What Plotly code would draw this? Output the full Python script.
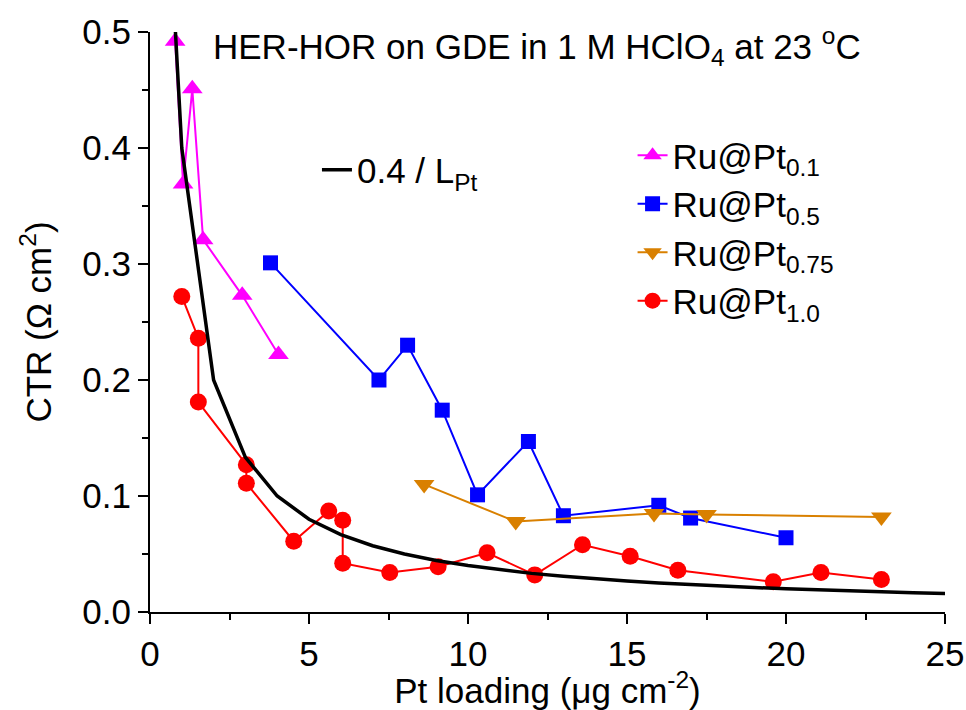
import plotly.graph_objects as go

# ---- data ----
fit_x = [0.8, 1, 2, 3, 4, 5, 6, 7, 8, 9, 10, 11, 12, 13, 14, 15, 16, 17, 18, 19, 20, 21, 22, 23, 24, 25]
fit_y = [0.5, 0.4, 0.2, 0.1333, 0.1, 0.08, 0.0667, 0.0571, 0.05, 0.0444, 0.04, 0.0364, 0.0333,
         0.0308, 0.0286, 0.0267, 0.025, 0.0235, 0.0222, 0.0211, 0.02, 0.019, 0.0182, 0.0174, 0.0167, 0.016]

pt01_x = [0.79, 1.04, 1.33, 1.67, 2.9, 4.04]
pt01_y = [0.492, 0.369, 0.451, 0.321, 0.273, 0.222]

pt05_x = [3.79, 7.2, 8.1, 9.19, 10.3, 11.9, 13.0, 16.0, 17.0, 20.0]
pt05_y = [0.301, 0.200, 0.230, 0.174, 0.101, 0.147, 0.083, 0.092, 0.081, 0.064]

pt075_x = [8.62, 11.5, 15.85, 17.5, 23.0]
pt075_y = [0.110, 0.078, 0.085, 0.084, 0.082]

pt10_x = [1.0, 1.52, 1.52, 3.03, 3.03, 4.52, 5.62, 6.06, 6.06, 7.54, 9.06, 10.6, 12.1, 13.6, 15.1, 16.6, 19.6, 21.1, 23.0]
pt10_y = [0.272, 0.236, 0.181, 0.127, 0.111, 0.061, 0.087, 0.079, 0.042, 0.034, 0.039, 0.051, 0.032, 0.058, 0.048, 0.036, 0.026, 0.034, 0.028]

names = ["Ru@Pt<sub>0.1</sub>", "Ru@Pt<sub>0.5</sub>", "Ru@Pt<sub>0.75</sub>", "Ru@Pt<sub>1.0</sub>"]
fit_name = "0.4 / L<sub>Pt</sub>"

FONT = "Liberation Sans, Arial, sans-serif"
FS = 35

fig = go.Figure()
fig.add_trace(go.Scatter(x=pt01_x, y=pt01_y, name=names[0], mode="lines+markers",
                         line=dict(color="#FF00FF", width=2),
                         marker=dict(symbol="triangle-up", size=18, color="#FF00FF"),
                         cliponaxis=False))
fig.add_trace(go.Scatter(x=pt05_x, y=pt05_y, name=names[1], mode="lines+markers",
                         line=dict(color="#0000FF", width=2),
                         marker=dict(symbol="square", size=15, color="#0000FF"),
                         cliponaxis=False))
fig.add_trace(go.Scatter(x=pt075_x, y=pt075_y, name=names[2], mode="lines+markers",
                         line=dict(color="#D98000", width=2),
                         marker=dict(symbol="triangle-down", size=18, color="#D98000"),
                         cliponaxis=False))
fig.add_trace(go.Scatter(x=pt10_x, y=pt10_y, name=names[3], mode="lines+markers",
                         line=dict(color="#FF0000", width=2),
                         marker=dict(symbol="circle", size=17, color="#FF0000"),
                         cliponaxis=False))
fig.add_trace(go.Scatter(x=fit_x, y=fit_y, name=fit_name, mode="lines",
                         line=dict(color="black", width=3.5), legend="legend2",
                         cliponaxis=False))

axis_common = dict(showline=True, linewidth=2, linecolor="black", showgrid=False, zeroline=False,
                   ticks="outside", ticklen=10, tickwidth=2, tickcolor="black", automargin=False,
                   tickfont=dict(family=FONT, size=FS, color="black"))

fig.update_xaxes(range=[0, 25], dtick=5, tick0=0,
                 minor=dict(dtick=2.5, ticks="outside", ticklen=6, tickwidth=2, tickcolor="black"),
                 title=dict(text="Pt loading (μg cm<sup>-2</sup>)", font=dict(family=FONT, size=FS, color="black"),
                            standoff=0),
                 **axis_common)
fig.update_yaxes(range=[0, 0.5], dtick=0.1, tick0=0, tickformat=".1f",
                 minor=dict(dtick=0.05, ticks="outside", ticklen=6, tickwidth=2, tickcolor="black"),
                 title=dict(text="CTR (Ω cm<sup>2</sup>)", font=dict(family=FONT, size=FS, color="black"),
                            standoff=20),
                 **axis_common)

fig.add_annotation(text="HER-HOR on GDE in 1 M HClO<sub>4</sub> at 23 <sup>o</sup>C",
                   xref="paper", yref="paper", x=0.077, y=0.975, xanchor="left", yanchor="middle",
                   showarrow=False, font=dict(family=FONT, size=FS, color="black"))

fig.update_layout(
    width=966, height=710,
    margin=dict(l=150, r=21, t=32, b=98),
    paper_bgcolor="white", plot_bgcolor="white",
    font=dict(family=FONT, color="black"),
    legend=dict(x=0.607, y=0.838, xanchor="left", yanchor="top", bgcolor="rgba(0,0,0,0)",
                font=dict(family=FONT, size=FS, color="black"), tracegroupgap=0),
    legend2=dict(x=0.21, y=0.762, xanchor="left", yanchor="middle", bgcolor="rgba(0,0,0,0)",
                 font=dict(family=FONT, size=FS, color="black")),
)

fig.write_html("out.html")
